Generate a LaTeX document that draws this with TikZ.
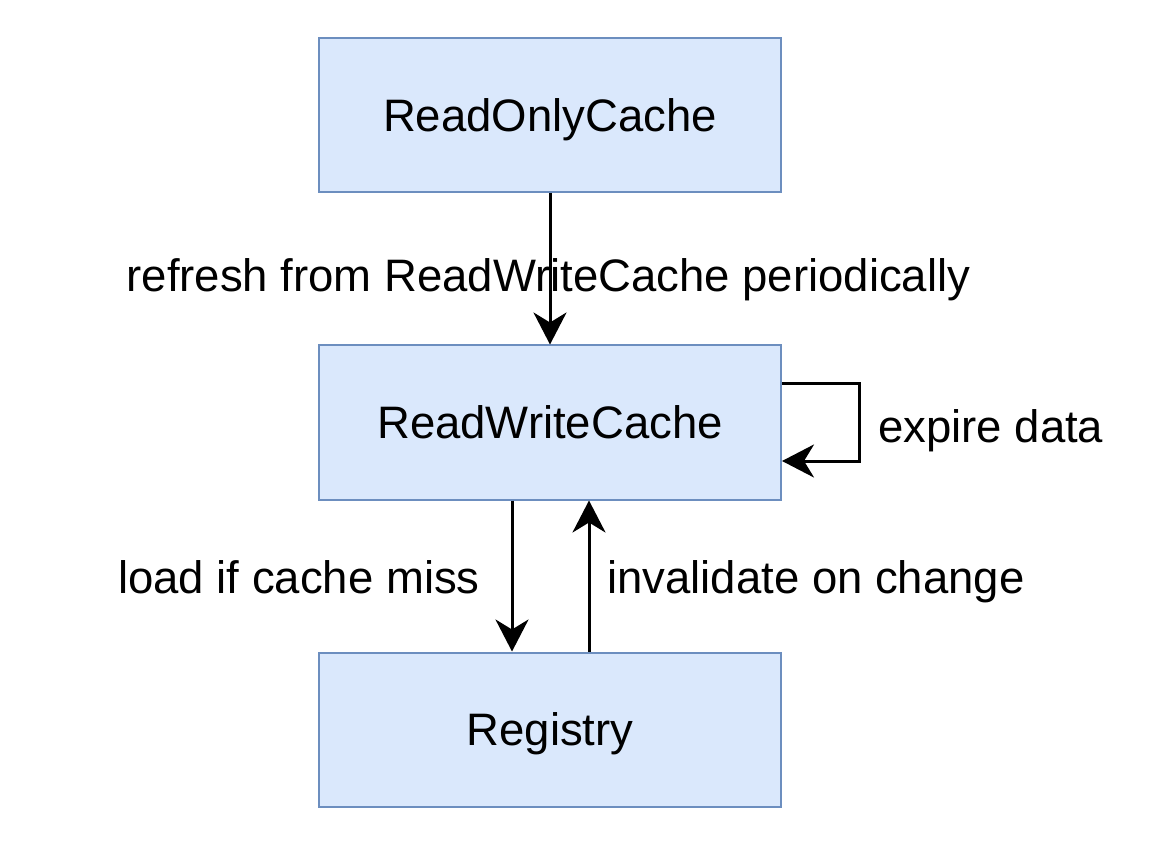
\documentclass[tikz,border=0pt]{standalone}
\usepackage{fontspec}
\setmainfont{Liberation Sans}
\usetikzlibrary{arrows.meta}
\definecolor{boxfill}{HTML}{DAE8FC}
\definecolor{boxline}{HTML}{6C8EBF}
\begin{document}
\begin{tikzpicture}[x=1pt,y=-1pt,
  box/.style={draw=boxline, fill=boxfill, line width=2pt, minimum width=462pt, minimum height=154pt, inner sep=0pt, font=\fontsize{45.5}{54}\selectfont, text height=32.6pt, text depth=0pt},
  lbl/.style={inner sep=0pt, font=\fontsize{45.5}{54}\selectfont, text height=32.6pt, text depth=0pt},
  arr/.style={line width=3pt, -{Stealth[length=32pt,width=33pt,inset=10pt]}}]
\useasboundingbox (0,0) rectangle (1172,858);
\node[box] (roc) at (550,115) {ReadOnlyCache};
\node[box] (rwc) at (550,422.5) {ReadWriteCache};
\node[box] (reg) at (550,729.5) {Registry};
\node[lbl] (l1) at (548.5,275) {refresh from ReadWriteCache periodically};
\node[lbl, anchor=west] (l2) at (878,426) {expire data};
\node[lbl, anchor=east] (l3) at (480,577) {load if cache miss};
\node[lbl, anchor=west] (l4) at (607,577) {invalidate on change};
\draw[arr] (roc.south) -- (rwc.north);
\draw[arr] ([xshift=-38pt]rwc.south) -- ([xshift=-38pt]reg.north);
\draw[arr] ([xshift=39pt]reg.north) -- ([xshift=39pt]rwc.south);
\draw[arr] ([yshift=39.5pt]rwc.east) -- ++(77,0) |- ([yshift=-38.5pt]rwc.east);
\end{tikzpicture}
\end{document}
